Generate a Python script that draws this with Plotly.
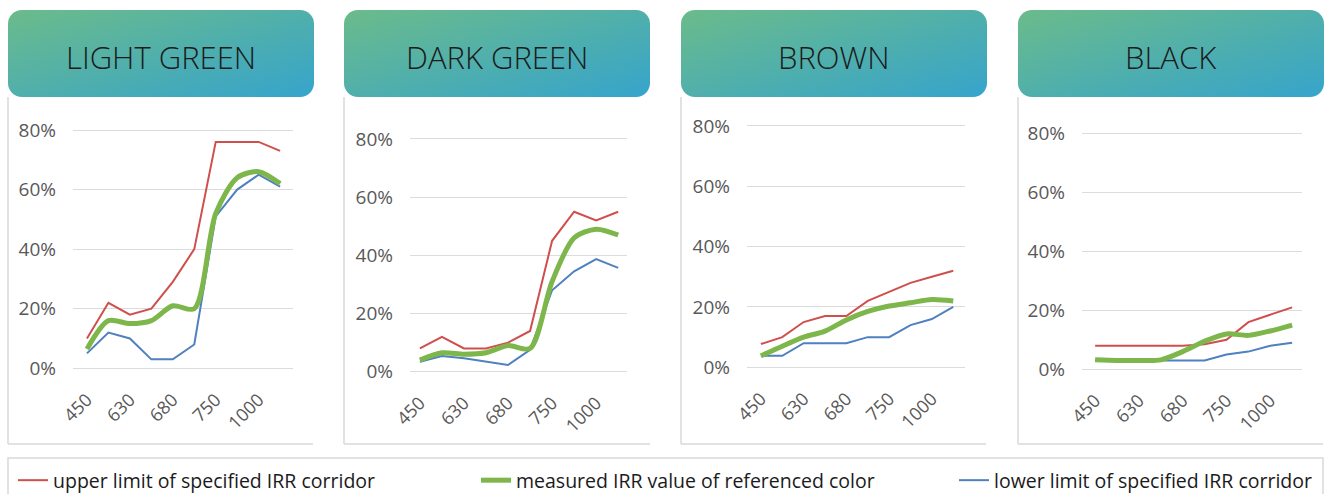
import base64
import plotly.graph_objects as go

# ---------------- data ----------------
categories = ["450", "550", "630", "650", "680", "700", "750", "850", "1000", "1100"]
tick_labels = ["450", "630", "680", "750", "1000"]
panel_titles = ["LIGHT GREEN", "DARK GREEN", "BROWN", "BLACK"]
series_names = ["upper limit of specified IRR corridor",
                "measured IRR value of referenced color",
                "lower limit of specified IRR corridor"]
y_ticks = [0, 20, 40, 60, 80]
y_tick_text = ["0%", "20%", "40%", "60%", "80%"]

light_green_upper = [10, 22, 18, 20, 29, 40, 76, 76, 76, 73]
light_green_measured = [6.5, 16, 15, 16, 21, 20, 52, 64, 66, 62]
light_green_lower = [5, 12, 10, 3, 3, 8, 51, 60, 65, 61]

dark_green_upper = [8, 12, 8, 8, 10, 14, 45, 55, 52, 55]
dark_green_measured = [4, 6.5, 6, 6.5, 9, 8, 31, 46, 49, 47]
dark_green_lower = [3.4, 5.4, 4.6, 3.4, 2.3, 7.5, 28, 34.5, 38.7, 35.7]

brown_upper = [7.7, 10, 15, 17, 17, 22, 25, 28, 30, 32]
brown_measured = [3.8, 7, 10, 12, 15.7, 18.5, 20.3, 21.4, 22.5, 22]
brown_lower = [3.8, 3.8, 8, 8, 8, 10, 10, 14, 16, 20]

black_upper = [8, 8, 8, 8, 8, 8.5, 10, 16, 18.5, 21]
black_measured = [3.2, 3, 3, 3.2, 6, 9.5, 12, 11.5, 13, 15]
black_lower = [3, 3, 3, 3, 3, 3, 5, 6, 8, 9]

panels = [
    (light_green_upper, light_green_measured, light_green_lower),
    (dark_green_upper, dark_green_measured, dark_green_lower),
    (brown_upper, brown_measured, brown_lower),
    (black_upper, black_measured, black_lower),
]

# ---------------- layout geometry (pixels) ----------------
W, H = 1325, 494
geom = [
    dict(x0=73, x1=293, xr=[-0.65, 9.6], y0=368.3, y80=130.0),
    dict(x0=410, x1=627, xr=[-0.45, 9.4], y0=371.7, y80=139.0),
    dict(x0=747, x1=965, xr=[-0.65, 9.55], y0=367.3, y80=126.0),
    dict(x0=1082, x1=1302, xr=[-0.6, 9.45], y0=369.3, y80=133.3),
]
cards = [(8, 313), (344, 650), (681, 986), (1018, 1323)]

RED = "#cf4f4c"
GREEN = "#7db64a"
BLUE = "#4f80c0"
TICK_COLOR = "#595959"
GRID = "#dcdcdc"
FONT = "Open Sans"

fig = go.Figure()

YPAD = 1.5
for i, (up, meas, low) in enumerate(panels):
    n = "" if i == 0 else str(i + 1)
    xa, ya = "x" + n, "y" + n
    show = i == 0
    fig.add_trace(go.Scatter(x=categories, y=up, mode="lines", name=series_names[0],
                             line=dict(color=RED, width=2), xaxis=xa, yaxis=ya,
                             showlegend=show, legend="legend"))
    fig.add_trace(go.Scatter(x=categories, y=low, mode="lines", name=series_names[2],
                             line=dict(color=BLUE, width=2), xaxis=xa, yaxis=ya,
                             showlegend=show, legend="legend3"))
    fig.add_trace(go.Scatter(x=categories, y=meas, mode="lines", name=series_names[1],
                             line=dict(color=GREEN, width=5, shape="spline", smoothing=0.8),
                             xaxis=xa, yaxis=ya, showlegend=show, legend="legend2"))

    g = geom[i]
    ppu = (g["y0"] - g["y80"]) / 80.0
    ybot = g["y0"] + YPAD * ppu
    ytop = g["y80"] - YPAD * ppu
    fig.layout["xaxis" + n] = dict(
        domain=[g["x0"] / W, g["x1"] / W], anchor=ya, type="category",
        range=g["xr"], tickmode="array", tickvals=tick_labels, ticktext=tick_labels,
        tickangle=-45, showgrid=False, zeroline=False, showline=False, ticks="",
        tickfont=dict(family=FONT, size=18, color=TICK_COLOR), ticklabelstandoff=12,
        fixedrange=True,
    )
    fig.layout["yaxis" + n] = dict(
        domain=[1 - ybot / H, 1 - ytop / H], anchor=xa,
        range=[-YPAD, 80 + YPAD], tickmode="array", tickvals=y_ticks, ticktext=y_tick_text,
        showgrid=True, gridcolor=GRID, gridwidth=1, zeroline=False, showline=False,
        ticks="", tickfont=dict(family=FONT, size=19, color=TICK_COLOR),
        ticklabelstandoff=16, fixedrange=True,
    )

# ---------------- header boxes (gradient rounded rectangles) ----------------
BOX_W, BOX_H = 306, 87
svg = (
    f'<svg xmlns="http://www.w3.org/2000/svg" width="{BOX_W}" height="{BOX_H}" '
    f'viewBox="0 0 {BOX_W} {BOX_H}"><defs><linearGradient id="g" x1="0" y1="0" x2="1" y2="1">'
    '<stop offset="0" stop-color="#6bbb8a"/><stop offset="1" stop-color="#36a4cc"/>'
    f'</linearGradient></defs><rect x="0" y="0" width="{BOX_W}" height="{BOX_H}" rx="14" ry="14" '
    'fill="url(#g)"/></svg>'
)
src = "data:image/svg+xml;base64," + base64.b64encode(svg.encode()).decode()

images = []
annotations = []
shapes = []
for i, (cx0, cx1) in enumerate(cards):
    images.append(dict(source=src, xref="paper", yref="paper", x=cx0 / W, y=1 - 10 / H,
                       sizex=BOX_W / W, sizey=BOX_H / H, xanchor="left", yanchor="top",
                       sizing="stretch", layer="below"))
    annotations.append(dict(text=panel_titles[i], xref="paper", yref="paper",
                            x=(cx0 + BOX_W / 2) / W, y=1 - 57 / H, showarrow=False,
                            xanchor="center", yanchor="middle",
                            font=dict(family=FONT, size=31, color="#1b1b1b", weight=300)))
    shapes.append(dict(type="line", xref="paper", yref="paper", x0=cx0 / W, x1=cx0 / W,
                       y0=1 - 97 / H, y1=1 - 444 / H, line=dict(color="#d9d9d9", width=1.5)))
    shapes.append(dict(type="line", xref="paper", yref="paper", x0=cx0 / W, x1=cx1 / W,
                       y0=1 - 444 / H, y1=1 - 444 / H, line=dict(color="#d9d9d9", width=1.5)))

# legend frame
shapes.append(dict(type="rect", xref="paper", yref="paper", x0=8 / W, x1=1323 / W,
                   y0=1 - 458 / H, y1=-0.05, line=dict(color="#d9d9d9", width=1.5),
                   fillcolor="rgba(0,0,0,0)"))

legend_common = dict(orientation="h", xanchor="left", y=1 - 461 / H, yanchor="top",
                     font=dict(family=FONT, size=19.5, color="#1b1b1b"),
                     bgcolor="rgba(0,0,0,0)", itemclick=False, itemdoubleclick=False)

fig.update_layout(
    width=W, height=H, autosize=False,
    margin=dict(l=0, r=0, t=0, b=0, autoexpand=False),
    paper_bgcolor="white", plot_bgcolor="white",
    images=images, annotations=annotations, shapes=shapes,
    showlegend=True,
    legend=dict(x=13 / W, **legend_common),
    legend2=dict(x=476 / W, **legend_common),
    legend3=dict(x=954 / W, **legend_common),
)

fig.write_html("out.html", config={"displayModeBar": False},
               post_script="document.body.style.margin='0';document.body.style.overflow='hidden';")
